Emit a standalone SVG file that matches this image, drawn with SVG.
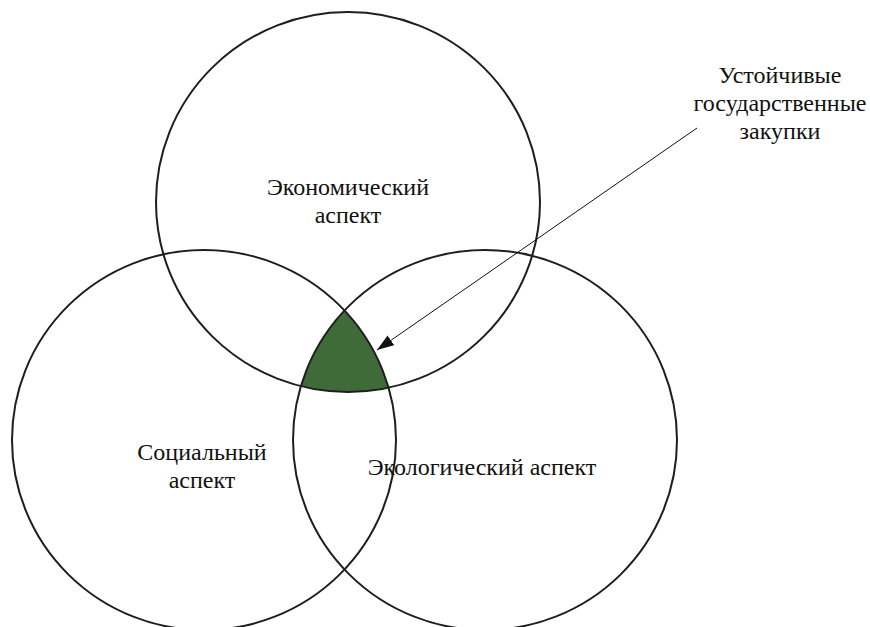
<svg xmlns="http://www.w3.org/2000/svg" width="870" height="627" viewBox="0 0 870 627">
<style>
.c{fill:none;stroke:#1e1e1e;stroke-width:2}
.t{font-size:24px;fill:#111;text-anchor:middle}
</style>
<defs>
<clipPath id="clL"><ellipse cx="204" cy="440" rx="192" ry="190"/></clipPath>
<clipPath id="clR"><ellipse cx="485" cy="440" rx="192" ry="190"/></clipPath>
<marker id="ah" markerWidth="18" markerHeight="12" refX="17" refY="6" orient="auto" markerUnits="userSpaceOnUse">
<path d="M0,0 L17,6 L0,12 Z" fill="#111"/>
</marker>
</defs>
<rect width="870" height="627" fill="#fff"/>
<g id="core">
<g clip-path="url(#clR)"><ellipse cx="348" cy="202" rx="192" ry="190" fill="#3f6b39" clip-path="url(#clL)"/></g>
</g>
<g font-family="Liberation Serif, DejaVu Serif, serif">
<g id="economic">
<ellipse class="c" cx="348" cy="202" rx="192" ry="190"/>
<text class="t" x="348" y="195">Экономический</text>
<text class="t" x="348" y="223">аспект</text>
</g>
<g id="social">
<ellipse class="c" cx="204" cy="440" rx="192" ry="190"/>
<text class="t" x="202" y="460">Социальный</text>
<text class="t" x="202" y="488">аспект</text>
</g>
<g id="ecological">
<ellipse class="c" cx="485" cy="440" rx="192" ry="190"/>
<text class="t" x="482" y="475">Экологический аспект</text>
</g>
<g id="label">
<text class="t" x="780" y="83">Устойчивые</text>
<text class="t" x="780" y="111">государственные</text>
<text class="t" x="780" y="139">закупки</text>
</g>
</g>
<g id="connectors">
<line x1="697" y1="128" x2="377" y2="350" stroke="#111" stroke-width="1" marker-end="url(#ah)"/>
</g>
</svg>
